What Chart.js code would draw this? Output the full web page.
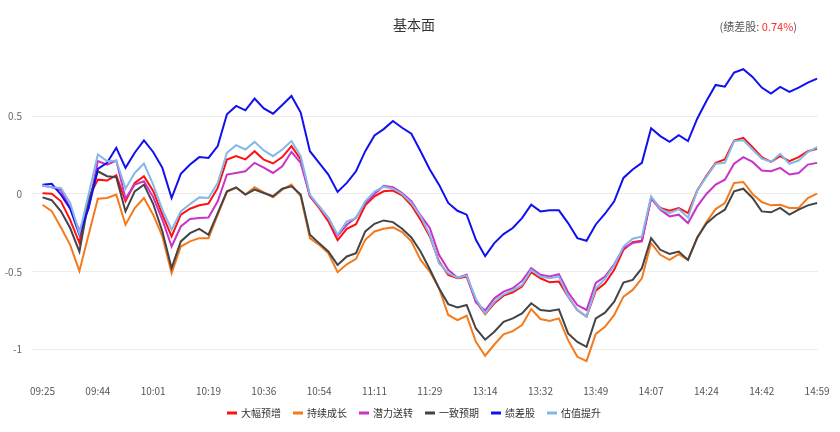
<!DOCTYPE html>
<html><head><meta charset="utf-8">
<script src="https://cdn.jsdelivr.net/npm/chart.js@4.4.0/dist/chart.umd.min.js"></script>
<style>html,body{margin:0;padding:0;background:#fff}#wrap{width:840px;height:432px;position:relative}</style>
</head><body><div id="wrap"><canvas id="c" width="840" height="432"></canvas></div>
<script>
const chartTitle = '基本面';
const noteLabel = '(绩差股: ';
const noteValue = '0.74%';
const tickLabels = ['09:25','09:44','10:01','10:19','10:36','10:54','11:11','11:29','13:14','13:32','13:49','14:07','14:24','14:42','14:59'];
const seriesNames = ['大幅预增','持续成长','潜力送转','一致预期','绩差股','估值提升'];
const yTicks = [-1,-0.5,0,0.5];

const daFu = [0.004,0.002,-0.047,-0.166,-0.314,-0.026,0.092,0.086,0.120,-0.047,0.071,0.114,0.020,
-0.133,-0.273,-0.133,-0.095,-0.073,-0.062,0.039,0.222,0.243,0.222,0.275,0.220,
0.196,0.237,0.308,0.222,-0.015,-0.090,-0.176,-0.297,-0.224,-0.194,-0.073,-0.015,
0.017,0.022,-0.009,-0.073,-0.166,-0.273,-0.434,-0.520,-0.542,-0.533,-0.688,-0.773,
-0.703,-0.654,-0.632,-0.595,-0.503,-0.542,-0.568,-0.563,-0.660,-0.746,-0.789,-0.622,
-0.574,-0.488,-0.359,-0.310,-0.301,-0.026,-0.090,-0.108,-0.090,-0.123,0.022,0.117,
0.200,0.222,0.344,0.361,0.301,0.237,0.206,0.243,0.211,0.237,0.275,0.290];

const chiXu = [-0.069,-0.110,-0.215,-0.327,-0.495,-0.262,-0.030,-0.026,-0.004,-0.198,-0.090,-0.026,-0.133,
-0.273,-0.510,-0.338,-0.305,-0.284,-0.284,-0.133,0.013,0.039,-0.004,0.043,0.010,
-0.022,0.028,0.060,-0.015,-0.284,-0.327,-0.381,-0.503,-0.452,-0.417,-0.295,-0.241,
-0.224,-0.215,-0.245,-0.305,-0.424,-0.499,-0.606,-0.778,-0.811,-0.783,-0.951,-1.040,
-0.968,-0.903,-0.882,-0.843,-0.740,-0.804,-0.817,-0.800,-0.940,-1.047,-1.075,-0.900,
-0.854,-0.778,-0.660,-0.617,-0.542,-0.316,-0.391,-0.424,-0.387,-0.424,-0.284,-0.180,
-0.097,-0.058,0.071,0.077,0.000,-0.052,-0.073,-0.069,-0.090,-0.090,-0.026,0.002];

const qianLi = [0.054,0.043,0.024,-0.090,-0.237,-0.090,0.211,0.189,0.215,-0.030,0.060,0.082,-0.020,
-0.166,-0.338,-0.209,-0.161,-0.155,-0.151,-0.047,0.125,0.135,0.146,0.200,0.170,
0.135,0.178,0.271,0.200,-0.015,-0.080,-0.155,-0.269,-0.198,-0.151,-0.058,0.000,
0.052,0.043,0.006,-0.047,-0.138,-0.219,-0.391,-0.488,-0.538,-0.520,-0.697,-0.750,
-0.671,-0.628,-0.606,-0.559,-0.477,-0.520,-0.531,-0.516,-0.632,-0.714,-0.746,-0.572,
-0.531,-0.452,-0.348,-0.316,-0.305,-0.026,-0.101,-0.144,-0.133,-0.187,-0.080,0.000,
0.060,0.092,0.194,0.237,0.206,0.151,0.146,0.168,0.125,0.135,0.189,0.200];

const yiZhi = [-0.022,-0.040,-0.112,-0.219,-0.370,-0.047,0.146,0.114,0.108,-0.112,0.017,0.060,-0.063,
-0.241,-0.477,-0.305,-0.252,-0.224,-0.262,-0.123,0.017,0.043,-0.004,0.028,0.006,
-0.015,0.034,0.049,-0.004,-0.262,-0.316,-0.370,-0.456,-0.402,-0.381,-0.241,-0.192,
-0.170,-0.181,-0.224,-0.280,-0.370,-0.484,-0.606,-0.708,-0.729,-0.714,-0.865,-0.937,
-0.886,-0.822,-0.800,-0.768,-0.703,-0.746,-0.753,-0.742,-0.897,-0.951,-0.983,-0.800,
-0.763,-0.692,-0.570,-0.553,-0.477,-0.284,-0.359,-0.385,-0.370,-0.424,-0.280,-0.190,
-0.138,-0.101,0.017,0.034,-0.026,-0.112,-0.118,-0.090,-0.133,-0.101,-0.073,-0.058];

const jiCha = [0.060,0.065,-0.004,-0.095,-0.262,-0.090,0.161,0.200,0.297,0.168,0.265,0.344,0.270,
0.168,-0.026,0.129,0.189,0.237,0.232,0.308,0.512,0.566,0.538,0.613,0.550,
0.516,0.572,0.630,0.523,0.275,0.200,0.125,0.013,0.071,0.146,0.275,0.376,
0.417,0.469,0.426,0.387,0.275,0.157,0.060,-0.058,-0.108,-0.133,-0.295,-0.400,
-0.316,-0.258,-0.219,-0.155,-0.069,-0.112,-0.105,-0.105,-0.187,-0.284,-0.301,-0.196,
-0.127,-0.047,0.103,0.157,0.200,0.422,0.372,0.335,0.378,0.340,0.484,0.598,
0.701,0.690,0.781,0.802,0.753,0.684,0.645,0.688,0.656,0.684,0.716,0.742];

const guZhi = [0.054,0.043,0.039,-0.058,-0.252,-0.004,0.254,0.211,0.215,0.034,0.135,0.196,0.060,
-0.101,-0.230,-0.112,-0.065,-0.022,-0.026,0.071,0.265,0.314,0.286,0.335,0.280,
0.243,0.286,0.340,0.243,-0.004,-0.080,-0.155,-0.262,-0.176,-0.155,-0.047,0.015,
0.047,0.034,0.000,-0.058,-0.144,-0.262,-0.445,-0.510,-0.538,-0.525,-0.675,-0.768,
-0.692,-0.645,-0.619,-0.585,-0.488,-0.531,-0.542,-0.531,-0.660,-0.746,-0.789,-0.606,
-0.546,-0.460,-0.338,-0.288,-0.273,-0.015,-0.095,-0.123,-0.097,-0.151,0.022,0.110,
0.194,0.200,0.340,0.346,0.286,0.228,0.206,0.258,0.194,0.215,0.269,0.301];

const seriesValues = [daFu, chiXu, qianLi, yiZhi, jiCha, guZhi];
const colors = ['#ff1010','#f57a1c','#c833c8','#444448','#1010f0','#82b9e9'];
const STEP = 6; // data points between consecutive tick labels
const FONT = '"Noto Sans CJK SC","Noto Sans",sans-serif';

const datasets = seriesValues.map((vals, k) => ({
  label: seriesNames[k],
  data: vals.map((v, i) => ({x: i, y: v})),
  borderColor: colors[k],
  backgroundColor: colors[k],
  borderWidth: 2,
  pointRadius: 0,
  tension: 0,
  order: seriesValues.length - 1 - k
}));

const decor = {
  id: 'decor',
  afterDraw(chart) {
    const ctx = chart.ctx;
    ctx.save();
    ctx.textBaseline = 'middle';
    ctx.fillStyle = '#333';
    ctx.font = '14px ' + FONT;
    ctx.textAlign = 'center';
    ctx.fillText(chartTitle, 414, 25);
    ctx.font = '11px ' + FONT;
    ctx.textAlign = 'left';
    const w1 = ctx.measureText(noteLabel).width;
    const w2 = ctx.measureText(noteValue).width;
    const w3 = ctx.measureText(')').width;
    let x = 797 - (w1 + w2 + w3);
    ctx.fillStyle = '#555';
    ctx.fillText(noteLabel, x, 27); x += w1;
    ctx.fillStyle = '#ff2a2a';
    ctx.fillText(noteValue, x, 27); x += w2;
    ctx.fillStyle = '#555';
    ctx.fillText(')', x, 27);
    ctx.font = '10px ' + FONT;
    const gap = 12, mark = 10, mgap = 4;
    const widths = chart.data.datasets.map(d => ctx.measureText(d.label).width);
    const total = widths.reduce((a, b) => a + b, 0) + chart.data.datasets.length * (mark + mgap) + gap * (chart.data.datasets.length - 1);
    let lx = 414 - total / 2;
    const ly = 413;
    chart.data.datasets.forEach((d, k) => {
      ctx.fillStyle = d.borderColor;
      ctx.fillRect(lx, ly - 1.5, mark, 3);
      lx += mark + mgap;
      ctx.fillStyle = '#333';
      ctx.fillText(d.label, lx, ly);
      lx += widths[k] + gap;
    });
    ctx.restore();
  }
};

new Chart(document.getElementById('c'), {
  type: 'line',
  data: { datasets },
  options: {
    responsive: false,
    animation: false,
    devicePixelRatio: 1,
    layout: { padding: { top: 54, right: 22, bottom: 33.4, left: 0 } },
    plugins: { legend: { display: false }, title: { display: false }, tooltip: { enabled: false } },
    scales: {
      x: {
        type: 'linear',
        min: -1.14,
        max: (tickLabels.length - 1) * STEP + 0.1,
        grid: { display: false, drawTicks: false },
        border: { display: false },
        afterBuildTicks(axis) { axis.ticks = tickLabels.map((_, j) => ({ value: j * STEP })); },
        afterFit(axis) { axis.height = 18; },
        ticks: {
          autoSkip: false, maxRotation: 0, padding: 5,
          color: '#555', font: { size: 10, family: FONT },
          callback: (v) => tickLabels[Math.round(v / STEP)]
        }
      },
      y: {
        min: -1.2,
        max: 0.9,
        grid: { color: '#ececec', drawTicks: false, lineWidth: 1 },
        border: { display: false },
        afterBuildTicks(axis) { axis.ticks = yTicks.map(v => ({ value: v })); },
        afterFit(axis) { axis.width = 32; },
        ticks: {
          padding: 10, color: '#666', font: { size: 10, family: FONT },
          callback: (v) => String(v)
        }
      }
    }
  },
  plugins: [decor]
});
</script></body></html>
